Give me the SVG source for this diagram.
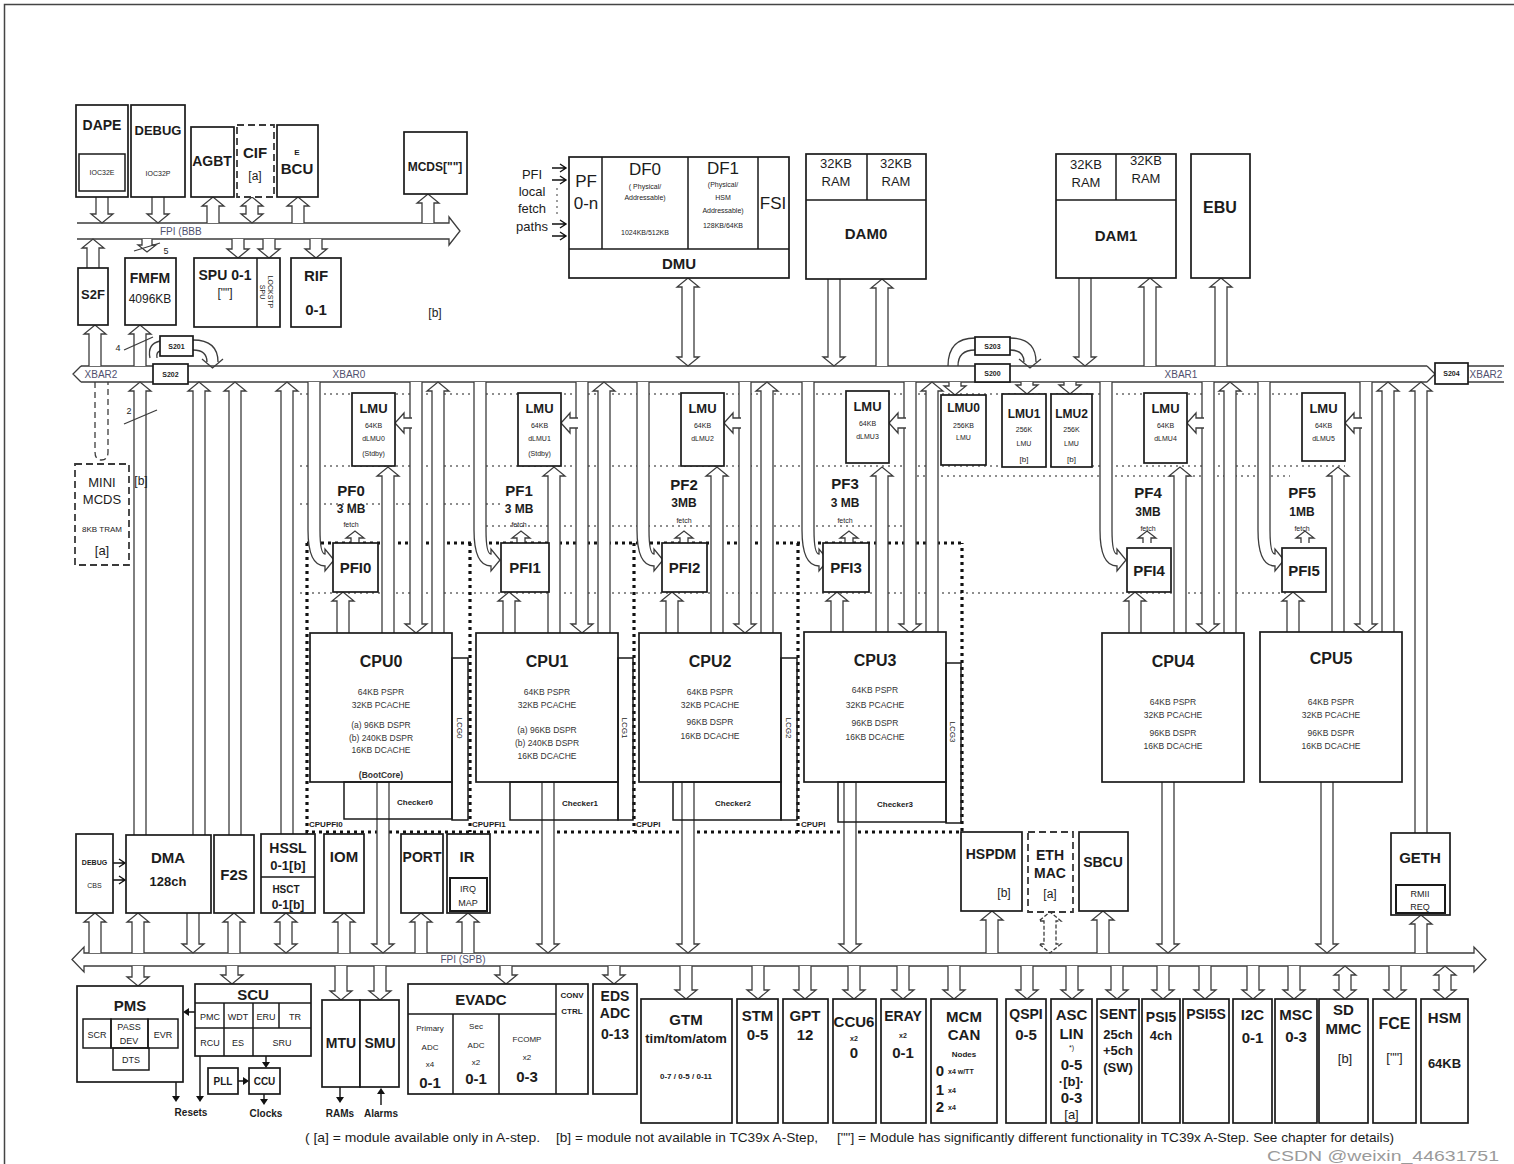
<svg xmlns="http://www.w3.org/2000/svg" width="1514" height="1164" viewBox="0 0 1514 1164">
<defs>
<style>
text{font-family:"Liberation Sans",Arial,Helvetica,sans-serif;fill:#1c1c1c;text-anchor:middle}
.bx{fill:#fff;stroke:#1a1a1a;stroke-width:1.7}
.bn{fill:none;stroke:#1a1a1a;stroke-width:1.5}
.ds{fill:#fff;stroke:#3a3a3a;stroke-width:1.8;stroke-dasharray:7 4}
.ar{fill:#fff;stroke:#3c3c3c;stroke-width:1.3}
.ln{fill:none;stroke:#3c3c3c;stroke-width:1.3}
.lk{fill:none;stroke:#111;stroke-width:1.4}
.hd{fill:#111;stroke:none}
.dot{fill:none;stroke:#6a6a6a;stroke-width:1.3;stroke-dasharray:2 4}
.dom{fill:none;stroke:#111;stroke-width:3.2;stroke-dasharray:3 4}
.h16{font-size:16px;font-weight:bold}
.h15{font-size:15px;font-weight:bold}
.h14{font-size:14px;font-weight:bold}
.h13{font-size:13px;font-weight:bold}
.h12{font-size:12px;font-weight:bold}
.h10{font-size:10px;font-weight:bold}
.r17{font-size:17px}
.r13{font-size:13px}
.r12{font-size:12px}
.s9{font-size:9px}
.s8{font-size:8px}
.s7{font-size:7px}
.sb{font-size:7px;font-weight:bold}
.cb{font-size:8px;font-weight:bold}
.bl{font-size:10px;fill:#50506e}
.cpu{font-size:8.5px;fill:#333}
.lt{text-anchor:start}
</style>
<g id="col">
<path class="ar" d="M308,382 V530 Q308,566 325,566 V571 L334,560 L325,549 V554 Q320,554 320,530 V382"/>
<path class="ar" d="M351,543 V538 h-5 l9,-7 l9,7 h-5 V543"/>
<path class="ar" d="M337,633 V601 h-5 l11,-9 l11,9 h-5 V633"/>
<path class="ar" d="M382,633 V476 h-5 l11,-9 l11,9 h-5 V633"/>
<path class="ar" d="M410,382 V624 h-5 l11,9 l11,-9 h-5 V382"/>
<path class="ar" d="M412,418 H404 v-5 l-9,10 l9,10 v-5 H412"/>
<path class="ar" d="M432,633 V391 h-5 l11,-9 l11,9 h-5 V633"/>
</g>
</defs>
<rect x="0" y="0" width="1514" height="1164" fill="#fff"/>
<path d="M4.5,1164 V4.5 H1514" fill="none" stroke="#444" stroke-width="1.5"/>

<g id="guides">
<path class="dot" d="M300,394 H1345 M300,466 H1345 M905,476 H1290 M300,504 H500 M480,526 H905 M300,593 H1290"/>
<path class="dom" d="M307,543 H962 M307,543 V832 H962 V543 M470,543 V832 M634,543 V832 M798,543 V832"/>
</g>

<g id="connectors">
<path class="ar" d="M77,223 H449 V217 L460,231 L449,245 V239 H77"/>
<path class="ln" d="M81,366 H1427 M81,382 H1427 M81,366 L73,374 L81,382 M1427,366 L1435,374 L1427,382 M1468,366 H1504 M1468,382 H1504"/>
<path class="ar" d="M84,953 H1474 V947 L1486,959.5 L1474,972 V966 H84 V972 L72,959.5 L84,947 Z"/>
<text class="bl lt" x="160" y="235">FPI (BBB</text>
<text class="bl" x="101" y="378">XBAR2</text>
<text class="bl" x="349" y="378">XBAR0</text>
<text class="bl" x="1181" y="378">XBAR1</text>
<text class="bl" x="1486" y="378">XBAR2</text>
<text class="bl" x="463" y="963">FPI  (SPB)</text>
<path class="ar" d="M96,197 V214 h-5 l11,9 l11,-9 h-5 V197"/>
<path class="ar" d="M152,197 V214 h-5 l11,9 l11,-9 h-5 V197"/>
<path class="ar" d="M207,223 V206 h-5 l11,-9 l11,9 h-5 V223"/>
<path class="ar" d="M246,206 h-5 l11,-9 l11,9 h-5 V214 h5 l-11,9 l-11,-9 h5 Z"/>
<path class="ar" d="M292,223 V206 h-5 l11,-9 l11,9 h-5 V223"/>
<path class="ar" d="M422,223 V203 h-5 l11,-9 l11,9 h-5 V223"/>
<path class="ar" d="M87,268 V248 h-5 l11,-9 l11,9 h-5 V268"/>
<path class="ar" d="M142,239 V245 h-4 l9,7 l9,-7 h-4 V239"/>
<path class="ln" d="M134,251 L160,243"/>
<text class="s9" x="166" y="254" fill="#50506e">5</text>
<path class="ar" d="M232,239 V249 h-5 l11,9 l11,-9 h-5 V239"/>
<path class="ar" d="M263,239 V249 h-5 l11,9 l11,-9 h-5 V239"/>
<path class="ar" d="M310,239 V249 h-5 l11,9 l11,-9 h-5 V239"/>
<path class="ar" d="M89,366 V334 h-5 l11,-9 l11,9 h-5 V366"/>
<path class="ar" d="M134,366 V334 h-5 l11,-9 l11,9 h-5 V366"/>
<path class="ln" d="M193,340 Q218,340 218,362 M193,350 Q207,350 207,362 M202,359 L212.5,368 L223,359"/>
<path class="ln" d="M160,341 Q147,344 150,358 M160,351 Q156,352 157,358"/>
<path class="ln" d="M124,350 L153,337"/>
<text class="s9" x="118" y="351" fill="#50506e">4</text>
<path class="ar" d="M682,287 h-5 l11,-9 l11,9 h-5 V357 h5 l-11,9 l-11,-9 h5 Z"/>
<path class="ar" d="M828,279 V357 h-5 l11,9 l11,-9 h-5 V279"/>
<path class="ar" d="M876,366 V288 h-5 l11,-9 l11,9 h-5 V366"/>
<path class="ar" d="M1079,278 V357 h-5 l11,9 l11,-9 h-5 V278"/>
<path class="ar" d="M1144,366 V287 h-5 l11,-9 l11,9 h-5 V366"/>
<path class="ar" d="M1215,366 V287 h-5 l11,-9 l11,9 h-5 V366"/>
<path class="ln" d="M948,366 Q948,338 975,338 M958,366 Q958,350 975,350"/>
<path class="ln" d="M1010,338 Q1036,338 1036,362 M1010,350 Q1024,350 1024,362 M1019,359 L1030,368 L1041,359"/>
<path class="lk" d="M552,168 H566 M560,164 L566,168 L560,172 M552,180 H566 M560,176 L566,180 L560,184 M552,224 H566 M560,220 L566,224 L560,228 M552,236 H566 M560,232 L566,236 L560,240"/>
<path class="dot" d="M557,188 V218"/>
<path class="ln" d="M95,382 V452 Q95,460 101.5,460 Q108,460 108,452 V382" style="stroke-dasharray:6 4"/>
<path class="ar" d="M134,835 V391 h-5 l11,-9 l11,9 h-5 V835"/>
<path class="ar" d="M193,835 V391 h-5 l11,-9 l11,9 h-5 V835"/>
<path class="ar" d="M229,835 V391 h-5 l11,-9 l11,9 h-5 V835"/>
<path class="ar" d="M281,834 V391 h-5 l11,-9 l11,9 h-5 V834"/>
<path class="ln" d="M124,424 L157,410"/>
<text class="s9" x="129" y="414" fill="#50506e">2</text>
<path class="ar" d="M949,382 V386 h-5 l11,9 l11,-9 h-5 V382"/>
<path class="ar" d="M1021,382 V385 h-5 l11,9 l11,-9 h-5 V382"/>
<path class="ar" d="M1064,382 V385 h-5 l11,9 l11,-9 h-5 V382"/>
<path class="ar" d="M1415,833 V391 h-5 l11,-9 l11,9 h-5 V833"/>
<use href="#col"/>
<use href="#col" x="166"/>
<use href="#col" x="329"/>
<use href="#col" x="494"/>
<use href="#col" x="792"/>
<use href="#col" x="950"/>
<path class="ar" d="M377,782 V944 h-5 l11,9 l11,-9 h-5 V782"/>
<path class="ar" d="M542,782 V944 h-5 l11,9 l11,-9 h-5 V782"/>
<path class="ar" d="M682,782 V944 h-5 l11,9 l11,-9 h-5 V782"/>
<path class="ar" d="M844,782 V944 h-5 l11,9 l11,-9 h-5 V782"/>
<path class="ar" d="M1162,782 V944 h-5 l11,9 l11,-9 h-5 V782"/>
<path class="ar" d="M1321,782 V944 h-5 l11,9 l11,-9 h-5 V782"/>
<path class="ar" d="M89,953 V922 h-5 l11,-9 l11,9 h-5 V953"/>
<path class="ar" d="M132,953 V922 h-5 l11,-9 l11,9 h-5 V953"/>
<path class="ar" d="M187,913 V944 h-5 l11,9 l11,-9 h-5 V913"/>
<path class="ar" d="M228,953 V922 h-5 l11,-9 l11,9 h-5 V953"/>
<path class="ar" d="M280,922 h-5 l11,-9 l11,9 h-5 V944 h5 l-11,9 l-11,-9 h5 Z"/>
<path class="ar" d="M338,953 V922 h-5 l11,-9 l11,9 h-5 V953"/>
<path class="ar" d="M415,953 V922 h-5 l11,-9 l11,9 h-5 V953"/>
<path class="ar" d="M462,953 V922 h-5 l11,-9 l11,9 h-5 V953"/>
<path class="ar" d="M986,953 V920 h-5 l11,-9 l11,9 h-5 V953"/>
<path class="ar" d="M1044,921 h-5 l11,-9 l11,9 h-5 V944 h5 l-11,9 l-11,-9 h5 Z" style="stroke-dasharray:4 2"/>
<path class="ar" d="M1097,953 V920 h-5 l11,-9 l11,9 h-5 V953"/>
<path class="ar" d="M1415,953 V924 h-5 l11,-9 l11,9 h-5 V953"/>
<path class="lk" d="M113,863 H124 M119,859 L125,863 L119,867 M113,880 H124 M119,876 L125,880 L119,884"/>
<path class="ar" d="M132,966 V977 h-5 l11,9 l11,-9 h-5 V966"/>
<path class="ar" d="M226,966 V975 h-5 l11,9 l11,-9 h-5 V966"/>
<path class="ar" d="M335,966 V991 h-5 l11,9 l11,-9 h-5 V966"/>
<path class="ar" d="M374,966 V991 h-5 l11,9 l11,-9 h-5 V966"/>
<path class="ar" d="M500,966 V975 h-5 l11,9 l11,-9 h-5 V966"/>
<path class="ar" d="M608,966 V975 h-5 l11,9 l11,-9 h-5 V966"/>
<path class="ar" d="M680,966 V990 h-5 l11,9 l11,-9 h-5 V966"/>
<path class="ar" d="M752,966 V990 h-5 l11,9 l11,-9 h-5 V966"/>
<path class="ar" d="M799,966 V990 h-5 l11,9 l11,-9 h-5 V966"/>
<path class="ar" d="M848,966 V990 h-5 l11,9 l11,-9 h-5 V966"/>
<path class="ar" d="M897,966 V990 h-5 l11,9 l11,-9 h-5 V966"/>
<path class="ar" d="M948,966 V990 h-5 l11,9 l11,-9 h-5 V966"/>
<path class="ar" d="M1021,966 V990 h-5 l11,9 l11,-9 h-5 V966"/>
<path class="ar" d="M1066,966 V990 h-5 l11,9 l11,-9 h-5 V966"/>
<path class="ar" d="M1111,966 V990 h-5 l11,9 l11,-9 h-5 V966"/>
<path class="ar" d="M1157,966 V990 h-5 l11,9 l11,-9 h-5 V966"/>
<path class="ar" d="M1199,966 V990 h-5 l11,9 l11,-9 h-5 V966"/>
<path class="ar" d="M1247,966 V990 h-5 l11,9 l11,-9 h-5 V966"/>
<path class="ar" d="M1288,966 V990 h-5 l11,9 l11,-9 h-5 V966"/>
<path class="ar" d="M1339,975 h-5 l11,-9 l11,9 h-5 V990 h5 l-11,9 l-11,-9 h5 Z"/>
<path class="ar" d="M1389,966 V990 h-5 l11,9 l11,-9 h-5 V966"/>
<path class="ar" d="M1439,975 h-5 l11,-9 l11,9 h-5 V990 h5 l-11,9 l-11,-9 h5 Z"/>
<path class="lk" d="M195,1012 H188 M266,1056 V1063 M238,1081 H244 M264,1094 V1100 M176,1082 V1097 M200,1056 V1097 M340,1087 V1098 M381,1105 V1093"/>
<polygon class="hd" points="183,1012 189,1008 189,1016"/>
<polygon class="hd" points="262,1062 270,1062 266,1068"/>
<polygon class="hd" points="243,1077 243,1085 249,1081"/>
<polygon class="hd" points="260,1099 268,1099 264,1105"/>
<polygon class="hd" points="172,1096 180,1096 176,1102"/>
<polygon class="hd" points="196,1096 204,1096 200,1102"/>
<polygon class="hd" points="336,1097 344,1097 340,1103"/>
<polygon class="hd" points="377,1094 385,1094 381,1088"/>
</g>

<g id="dape"><rect class="bx" x="76" y="105" width="52" height="92"/><rect class="bn" x="79" y="154" width="46" height="37"/><text class="h14" x="102" y="130">DAPE</text><text class="s7" x="102" y="175">IOC32E</text></g>
<g id="debug"><rect class="bx" x="131" y="105" width="54" height="92"/><text class="h13" x="158" y="135">DEBUG</text><text class="s7" x="158" y="176">IOC32P</text></g>
<g id="agbt"><rect class="bx" x="191" y="127" width="43" height="70"/><text class="h14" x="212" y="166">AGBT</text></g>
<g id="cif"><rect class="ds" x="237" y="125" width="37" height="72"/><text class="h15" x="255" y="158">CIF</text><text class="r12" x="255" y="180">[a]</text></g>
<g id="ebcu"><rect class="bx" x="277" y="125" width="41" height="72"/><text class="cb" x="297" y="155">E</text><text class="h15" x="297" y="174">BCU</text></g>
<g id="mcds"><rect class="bx" x="404" y="132" width="63" height="62"/><text class="h12" x="435" y="171">MCDS[""]</text></g>
<g id="s2f"><rect class="bx" x="78" y="268" width="30" height="57"/><text class="h13" x="93" y="299">S2F</text></g>
<g id="fmfm"><rect class="bx" x="125" y="258" width="51" height="67"/><text class="h14" x="150" y="283">FMFM</text><text class="r12" x="150" y="303">4096KB</text></g>
<g id="spu"><rect class="bx" x="194" y="258" width="86" height="69"/><line class="bn" x1="257" y1="258" x2="257" y2="327"/><text class="h14" x="225" y="280">SPU 0-1</text><text class="r12" x="225" y="297">[""]</text><text class="s7" transform="translate(260,292) rotate(90)">SPU</text><text class="s7" transform="translate(268,292) rotate(90)">LOCKSTP</text></g>
<g id="rif"><rect class="bx" x="291" y="258" width="50" height="69"/><text class="h15" x="316" y="281">RIF</text><text class="h15" x="316" y="315">0-1</text></g>
<text class="r12" x="435" y="317">[b]</text>

<g id="dmu"><rect class="bx" x="569" y="157" width="220" height="121"/><path class="bn" d="M569,249 H789 M602,157 V249 M688,157 V249 M758,157 V249"/>
<text class="r17" x="586" y="187">PF</text><text class="r17" x="586" y="209">0-n</text>
<text class="r17" x="645" y="175">DF0</text><text class="s7" x="645" y="189">( Physical/</text><text class="s7" x="645" y="200">Addressable)</text><text class="s7" x="645" y="235">1024KB/512KB</text>
<text class="r17" x="723" y="174">DF1</text><text class="s7" x="723" y="187">(Physical/</text><text class="s7" x="723" y="200">HSM</text><text class="s7" x="723" y="213">Addressable)</text><text class="s7" x="723" y="228">128KB/64KB</text>
<text class="r17" x="773" y="209">FSI</text><text class="h15" x="679" y="269">DMU</text></g>
<g id="pfi-label"><text class="r13" x="532" y="179">PFI</text><text class="r13" x="532" y="196">local</text><text class="r13" x="532" y="213">fetch</text><text class="r13" x="532" y="231">paths</text></g>

<g id="dam0"><rect class="bx" x="806" y="154" width="120" height="125"/><path class="bn" d="M806,200 H926 M867,154 V200"/><text class="r13" x="836" y="168">32KB</text><text class="r13" x="836" y="186">RAM</text><text class="r13" x="896" y="168">32KB</text><text class="r13" x="896" y="186">RAM</text><text class="h15" x="866" y="239">DAM0</text></g>
<g id="dam1"><rect class="bx" x="1056" y="154" width="120" height="124"/><path class="bn" d="M1056,200 H1176 M1116,154 V200"/><text class="r13" x="1086" y="169">32KB</text><text class="r13" x="1086" y="187">RAM</text><text class="r13" x="1146" y="165">32KB</text><text class="r13" x="1146" y="183">RAM</text><text class="h15" x="1116" y="241">DAM1</text></g>
<g id="ebu"><rect class="bx" x="1191" y="154" width="59" height="124"/><text class="h16" x="1220" y="213">EBU</text></g>

<g id="s201"><rect class="bx" x="160" y="336" width="33" height="20"/><text class="sb" x="176.5" y="349">S201</text></g>
<g id="s202"><rect class="bx" x="153" y="364" width="35" height="20"/><text class="sb" x="170.5" y="377">S202</text></g>
<g id="s203"><rect class="bx" x="975" y="337" width="35" height="18"/><text class="sb" x="992.5" y="349">S203</text></g>
<g id="s200"><rect class="bx" x="975" y="364" width="35" height="18"/><text class="sb" x="992.5" y="376">S200</text></g>
<g id="s204"><rect class="bx" x="1435" y="363" width="33" height="21"/><text class="sb" x="1451.5" y="376">S204</text></g>

<g id="minimcds"><rect class="ds" x="75" y="464" width="54" height="101"/><text class="r13" x="102" y="487">MINI</text><text class="r13" x="102" y="504">MCDS</text><text class="s8" x="102" y="532">8KB TRAM</text><text class="r13" x="102" y="555">[a]</text></g>
<text class="r12" x="141" y="485">[b]</text>

<g id="dlmu0"><rect class="bx" x="352" y="393" width="43" height="73"/><text class="h13" x="373.5" y="413">LMU</text><text class="s7" x="373.5" y="428">64KB</text><text class="s7" x="373.5" y="441">dLMU0</text><text class="s7" x="373.5" y="456">(Stdby)</text></g>
<g id="dlmu1"><rect class="bx" x="518" y="393" width="43" height="73"/><text class="h13" x="539.5" y="413">LMU</text><text class="s7" x="539.5" y="428">64KB</text><text class="s7" x="539.5" y="441">dLMU1</text><text class="s7" x="539.5" y="456">(Stdby)</text></g>
<g id="dlmu2"><rect class="bx" x="681" y="393" width="43" height="73"/><text class="h13" x="702.5" y="413">LMU</text><text class="s7" x="702.5" y="428">64KB</text><text class="s7" x="702.5" y="441">dLMU2</text></g>
<g id="dlmu3"><rect class="bx" x="846" y="391" width="43" height="72"/><text class="h13" x="867.5" y="411">LMU</text><text class="s7" x="867.5" y="426">64KB</text><text class="s7" x="867.5" y="439">dLMU3</text></g>
<g id="lmu0"><rect class="bx" x="941" y="395" width="45" height="70"/><text class="h12" x="963.5" y="412">LMU0</text><text class="s7" x="963.5" y="428">256KB</text><text class="s7" x="963.5" y="440">LMU</text></g>
<g id="lmu1"><rect class="bx" x="1002" y="394" width="44" height="73"/><text class="h12" x="1024" y="418">LMU1</text><text class="s7" x="1024" y="432">256K</text><text class="s7" x="1024" y="446">LMU</text><text class="s8" x="1024" y="462">[b]</text></g>
<g id="lmu2"><rect class="bx" x="1051" y="394" width="41" height="73"/><text class="h12" x="1071.5" y="418">LMU2</text><text class="s7" x="1071.5" y="432">256K</text><text class="s7" x="1071.5" y="446">LMU</text><text class="s8" x="1071.5" y="462">[b]</text></g>
<g id="dlmu4"><rect class="bx" x="1144" y="393" width="43" height="70"/><text class="h13" x="1165.5" y="413">LMU</text><text class="s7" x="1165.5" y="428">64KB</text><text class="s7" x="1165.5" y="441">dLMU4</text></g>
<g id="dlmu5"><rect class="bx" x="1302" y="393" width="43" height="68"/><text class="h13" x="1323.5" y="413">LMU</text><text class="s7" x="1323.5" y="428">64KB</text><text class="s7" x="1323.5" y="441">dLMU5</text></g>

<g id="pfi0"><rect class="bx" x="333" y="543" width="45" height="49"/><text class="h15" x="355.5" y="573">PFI0</text><text class="h15" x="351" y="496">PF0</text><text class="h12" x="351" y="513">3 MB</text><text class="s7" x="351" y="527">fetch</text></g>
<g id="pfi1"><rect class="bx" x="501" y="543" width="48" height="49"/><text class="h15" x="525" y="573">PFI1</text><text class="h15" x="519" y="496">PF1</text><text class="h12" x="519" y="513">3 MB</text><text class="s7" x="519" y="527">fetch</text></g>
<g id="pfi2"><rect class="bx" x="662" y="543" width="45" height="49"/><text class="h15" x="684.5" y="573">PFI2</text><text class="h15" x="684" y="490">PF2</text><text class="h12" x="684" y="507">3MB</text><text class="s7" x="684" y="523">fetch</text></g>
<g id="pfi3"><rect class="bx" x="823" y="543" width="46" height="49"/><text class="h15" x="846" y="573">PFI3</text><text class="h15" x="845" y="489">PF3</text><text class="h12" x="845" y="507">3 MB</text><text class="s7" x="845" y="523">fetch</text></g>
<g id="pfi4"><rect class="bx" x="1127" y="548" width="44" height="44"/><text class="h15" x="1149" y="576">PFI4</text><text class="h15" x="1148" y="498">PF4</text><text class="h12" x="1148" y="516">3MB</text><text class="s7" x="1148" y="531">fetch</text></g>
<g id="pfi5"><rect class="bx" x="1282" y="548" width="44" height="44"/><text class="h15" x="1304" y="576">PFI5</text><text class="h15" x="1302" y="498">PF5</text><text class="h12" x="1302" y="516">1MB</text><text class="s7" x="1302" y="531">fetch</text></g>

<g id="cpu0"><rect class="bx" x="310" y="633" width="142" height="149"/><text class="h16" x="381" y="667">CPU0</text>
<text class="cpu" x="381" y="695">64KB PSPR</text><text class="cpu" x="381" y="708">32KB PCACHE</text><text class="cpu" x="381" y="728">(a) 96KB DSPR</text><text class="cpu" x="381" y="741">(b) 240KB DSPR</text><text class="cpu" x="381" y="753">16KB DCACHE</text><text class="cpu" x="381" y="778" font-weight="bold">(BootCore)</text>
<rect class="bn" x="452" y="658" width="16" height="162"/><text class="s8" transform="translate(457,728) rotate(90)">LCG0</text>
<rect class="bn" x="344" y="782" width="108" height="37"/><text class="cb" x="415" y="805">Checker0</text></g>
<g id="cpu1"><rect class="bx" x="476" y="633" width="142" height="149"/><text class="h16" x="547" y="667">CPU1</text>
<text class="cpu" x="547" y="695">64KB  PSPR</text><text class="cpu" x="547" y="708">32KB PCACHE</text><text class="cpu" x="547" y="733">(a) 96KB  DSPR</text><text class="cpu" x="547" y="746">(b) 240KB DSPR</text><text class="cpu" x="547" y="759">16KB DCACHE</text>
<rect class="bn" x="618" y="658" width="15" height="162"/><text class="s8" transform="translate(622,728) rotate(90)">LCG1</text>
<rect class="bn" x="510" y="782" width="108" height="38"/><text class="cb" x="580" y="806">Checker1</text></g>
<g id="cpu2"><rect class="bx" x="639" y="633" width="142" height="149"/><text class="h16" x="710" y="667">CPU2</text>
<text class="cpu" x="710" y="695">64KB PSPR</text><text class="cpu" x="710" y="708">32KB  PCACHE</text><text class="cpu" x="710" y="725">96KB  DSPR</text><text class="cpu" x="710" y="739">16KB DCACHE</text>
<rect class="bn" x="781" y="658" width="16" height="162"/><text class="s8" transform="translate(786,728) rotate(90)">LCG2</text>
<rect class="bn" x="673" y="782" width="108" height="38"/><text class="cb" x="733" y="806">Checker2</text></g>
<g id="cpu3"><rect class="bx" x="804" y="632" width="142" height="150"/><text class="h16" x="875" y="666">CPU3</text>
<text class="cpu" x="875" y="693">64KB PSPR</text><text class="cpu" x="875" y="708">32KB  PCACHE</text><text class="cpu" x="875" y="726">96KB  DSPR</text><text class="cpu" x="875" y="740">16KB DCACHE</text>
<rect class="bn" x="946" y="663" width="15" height="160"/><text class="s8" transform="translate(950,732) rotate(90)">LCG3</text>
<rect class="bn" x="838" y="782" width="108" height="40"/><text class="cb" x="895" y="807">Checker3</text></g>
<g id="cpu4"><rect class="bx" x="1102" y="633" width="142" height="149"/><text class="h16" x="1173" y="667">CPU4</text>
<text class="cpu" x="1173" y="705">64KB PSPR</text><text class="cpu" x="1173" y="718">32KB  PCACHE</text><text class="cpu" x="1173" y="736">96KB  DSPR</text><text class="cpu" x="1173" y="749">16KB DCACHE</text></g>
<g id="cpu5"><rect class="bx" x="1260" y="632" width="142" height="150"/><text class="h16" x="1331" y="664">CPU5</text>
<text class="cpu" x="1331" y="705">64KB PSPR</text><text class="cpu" x="1331" y="718">32KB  PCACHE</text><text class="cpu" x="1331" y="736">96KB  DSPR</text><text class="cpu" x="1331" y="749">16KB DCACHE</text></g>
<g id="cpupfi-labels"><text class="cb lt" x="309" y="827">CPUPFI0</text><text class="cb lt" x="472" y="827">CPUPFI1</text><text class="cb lt" x="636" y="827">CPUPI</text><text class="cb lt" x="801" y="827">CPUPI</text></g>

<g id="debugcbs"><rect class="bx" x="76" y="834" width="37" height="79"/><text class="sb" x="94.5" y="865">DEBUG</text><text class="s7" x="94.5" y="888">CBS</text></g>
<g id="dma"><rect class="bx" x="126" y="835" width="85" height="78"/><text class="h15" x="168" y="863">DMA</text><text class="h13" x="168" y="886">128ch</text></g>
<g id="f2s"><rect class="bx" x="214" y="835" width="40" height="78"/><text class="h15" x="234" y="880">F2S</text></g>
<g id="hssl"><rect class="bx" x="261" y="834" width="54" height="79"/><line class="bn" x1="261" y1="877" x2="315" y2="877"/><text class="h14" x="288" y="853">HSSL</text><text class="h13" x="288" y="870">0-1[b]</text><text class="h10" x="286" y="893">HSCT</text><text class="h12" x="288" y="909">0-1[b]</text></g>
<g id="iom"><rect class="bx" x="324" y="834" width="40" height="79"/><text class="h15" x="344" y="862">IOM</text></g>
<g id="port"><rect class="bx" x="401" y="834" width="42" height="79"/><text class="h14" x="422" y="862">PORT</text></g>
<g id="ir"><rect class="bx" x="447" y="834" width="43" height="79"/><rect class="bn" x="450" y="878" width="37" height="33" style="stroke-width:2"/><text class="h15" x="467" y="862">IR</text><text class="s9" x="468" y="892">IRQ</text><text class="s9" x="468" y="906">MAP</text></g>
<g id="hspdm"><rect class="bx" x="961" y="832" width="61" height="79"/><text class="h14" x="991" y="859">HSPDM</text><text class="r12" x="1004" y="897">[b]</text></g>
<g id="ethmac"><rect class="ds" x="1028" y="832" width="45" height="80"/><text class="h14" x="1050" y="860">ETH</text><text class="h14" x="1050" y="878">MAC</text><text class="r12" x="1050" y="898">[a]</text></g>
<g id="sbcu"><rect class="bx" x="1079" y="832" width="49" height="79"/><text class="h14" x="1103" y="867">SBCU</text></g>
<g id="geth"><rect class="bx" x="1391" y="833" width="59" height="82"/><rect class="bn" x="1396" y="885" width="49" height="28" style="stroke-width:2"/><text class="h15" x="1420" y="863">GETH</text><text class="s9" x="1420" y="897">RMII</text><text class="s9" x="1420" y="910">REQ</text></g>

<g id="pms"><rect class="bx" x="77" y="986" width="106" height="96"/><text class="h15" x="130" y="1011">PMS</text>
<rect class="bn" x="83" y="1019" width="28" height="29"/><text class="s9" x="97" y="1038">SCR</text>
<rect class="bn" x="111" y="1019" width="37" height="29"/><text class="s9" x="129" y="1030">PASS</text><text class="s9" x="129" y="1044">DEV</text>
<rect class="bn" x="148" y="1019" width="30" height="29"/><text class="s9" x="163" y="1038">EVR</text>
<rect class="bn" x="113" y="1048" width="36" height="22"/><text class="s9" x="131" y="1063">DTS</text></g>
<g id="scu"><rect class="bx" x="195" y="984" width="116" height="72"/><path class="bn" d="M195,1003 H311 M195,1028 H311 M224,1003 V1056 M253,1003 V1056 M279,1003 V1028"/><text class="h15" x="253" y="1000">SCU</text>
<text class="s9" x="210" y="1020">PMC</text><text class="s9" x="238" y="1020">WDT</text><text class="s9" x="266" y="1020">ERU</text><text class="s9" x="295" y="1020">TR</text>
<text class="s9" x="210" y="1046">RCU</text><text class="s9" x="238" y="1046">ES</text><text class="s9" x="282" y="1046">SRU</text></g>
<g id="pll"><rect class="bx" x="208" y="1068" width="30" height="26"/><text class="h10" x="223" y="1085">PLL</text></g>
<g id="ccu"><rect class="bx" x="249" y="1068" width="31" height="26"/><text class="h10" x="264.5" y="1085">CCU</text></g>
<text class="h10" x="191" y="1116">Resets</text><text class="h10" x="266" y="1117">Clocks</text>
<g id="mtu"><rect class="bx" x="322" y="1000" width="38" height="87"/><text class="h14" x="341" y="1048">MTU</text></g>
<g id="smu"><rect class="bx" x="360" y="1000" width="39" height="87"/><text class="h14" x="380" y="1048">SMU</text></g>
<text class="h10" x="340" y="1117">RAMs</text><text class="h10" x="381" y="1117">Alarms</text>
<g id="evadc"><rect class="bx" x="408" y="984" width="180" height="110"/><path class="bn" d="M408,1014 H556 M556,984 V1094 M453,1014 V1094 M499,1014 V1094"/>
<text class="h15" x="481" y="1005">EVADC</text><text class="cb" x="572" y="998">CONV</text><text class="cb" x="572" y="1014">CTRL</text>
<text class="s8" x="430" y="1031">Primary</text><text class="s8" x="430" y="1050">ADC</text><text class="s8" x="430" y="1067">x4</text><text class="h15" x="430" y="1088">0-1</text>
<text class="s8" x="476" y="1029">Sec</text><text class="s8" x="476" y="1048">ADC</text><text class="s8" x="476" y="1065">x2</text><text class="h15" x="476" y="1084">0-1</text>
<text class="s8" x="527" y="1042">FCOMP</text><text class="s8" x="527" y="1060">x2</text><text class="h15" x="527" y="1082">0-3</text></g>
<g id="edsadc"><rect class="bx" x="593" y="984" width="44" height="110"/><text class="h14" x="615" y="1001">EDS</text><text class="h14" x="615" y="1018">ADC</text><text class="h14" x="615" y="1039">0-13</text></g>
<g id="gtm"><rect class="bx" x="641" y="999" width="91" height="124"/><text class="h15" x="686" y="1025">GTM</text><text class="h13" x="686" y="1043">tim/tom/atom</text><text class="cb" x="686" y="1079">0-7 / 0-5 / 0-11</text></g>
<g id="stm"><rect class="bx" x="737" y="999" width="41" height="124"/><text class="h15" x="757.5" y="1021">STM</text><text class="h15" x="757.5" y="1040">0-5</text></g>
<g id="gpt"><rect class="bx" x="783" y="999" width="45" height="124"/><text class="h15" x="805" y="1021">GPT</text><text class="h15" x="805" y="1040">12</text></g>
<g id="ccu6"><rect class="bx" x="833" y="999" width="43" height="124"/><text class="h15" x="854" y="1027">CCU6</text><text class="sb" x="854" y="1041">x2</text><text class="h15" x="854" y="1058">0</text></g>
<g id="eray"><rect class="bx" x="881" y="999" width="45" height="124"/><text class="h14" x="903" y="1021">ERAY</text><text class="sb" x="903" y="1038">x2</text><text class="h15" x="903" y="1058">0-1</text></g>
<g id="mcmcan"><rect class="bx" x="931" y="999" width="66" height="124"/><text class="h15" x="964" y="1022">MCM</text><text class="h15" x="964" y="1040">CAN</text><text class="cb" x="964" y="1057">Nodes</text>
<text class="h15" x="940" y="1076">0</text><text class="sb lt" x="948" y="1074">x4 w/TT</text><text class="h15" x="940" y="1095">1</text><text class="sb lt" x="948" y="1093">x4</text><text class="h15" x="940" y="1112">2</text><text class="sb lt" x="948" y="1110">x4</text></g>
<g id="qspi"><rect class="bx" x="1006" y="999" width="40" height="124"/><text class="h14" x="1026" y="1019">QSPI</text><text class="h15" x="1026" y="1040">0-5</text></g>
<g id="asclin"><rect class="bx" x="1051" y="999" width="41" height="124"/><text class="h15" x="1071.5" y="1020">ASC</text><text class="h15" x="1071.5" y="1039">LIN</text><text class="s7" x="1071.5" y="1050">*)</text><text class="h15" x="1071.5" y="1070">0-5</text><text class="h13" x="1071.5" y="1086">·[b]·</text><text class="h15" x="1071.5" y="1103">0-3</text><text class="r13" x="1071.5" y="1119">[a]</text></g>
<g id="sent"><rect class="bx" x="1097" y="999" width="42" height="124"/><text class="h14" x="1118" y="1019">SENT</text><text class="h13" x="1118" y="1039">25ch</text><text class="h13" x="1118" y="1055">+5ch</text><text class="h13" x="1118" y="1072">(SW)</text></g>
<g id="psi5"><rect class="bx" x="1142" y="999" width="38" height="124"/><text class="h14" x="1161" y="1022">PSI5</text><text class="h13" x="1161" y="1040">4ch</text></g>
<g id="psi5s"><rect class="bx" x="1183" y="999" width="46" height="124"/><text class="h14" x="1206" y="1019">PSI5S</text></g>
<g id="i2c"><rect class="bx" x="1233" y="999" width="39" height="124"/><text class="h15" x="1252.5" y="1020">I2C</text><text class="h15" x="1252.5" y="1043">0-1</text></g>
<g id="msc"><rect class="bx" x="1275" y="999" width="42" height="124"/><text class="h15" x="1296" y="1020">MSC</text><text class="h15" x="1296" y="1042">0-3</text></g>
<g id="sdmmc"><rect class="bx" x="1319" y="999" width="49" height="124"/><text class="h15" x="1343.5" y="1015">SD</text><text class="h15" x="1343.5" y="1034">MMC</text><text class="r13" x="1345" y="1063">[b]</text></g>
<g id="fce"><rect class="bx" x="1373" y="999" width="43" height="124"/><text class="h16" x="1394.5" y="1029">FCE</text><text class="r13" x="1394.5" y="1062">[""]</text></g>
<g id="hsm"><rect class="bx" x="1421" y="999" width="47" height="124"/><text class="h15" x="1444.5" y="1023">HSM</text><text class="h13" x="1444.5" y="1068">64KB</text></g>

<g id="footnote">
<text class="lt" x="305" y="1142" font-size="13" textLength="235" lengthAdjust="spacingAndGlyphs">( [a] = module  available only in A-step.</text>
<text class="lt" x="556" y="1142" font-size="13" textLength="262" lengthAdjust="spacingAndGlyphs">[b] = module not available in TC39x A-Step,</text>
<text class="lt" x="837" y="1142" font-size="13" textLength="557" lengthAdjust="spacingAndGlyphs">[""] = Module has significantly different functionality in TC39x A-Step. See chapter for details)</text>
<text class="lt" x="1267" y="1161" font-size="15" style="fill:#9a9a9a" textLength="232" lengthAdjust="spacingAndGlyphs">CSDN @weixin_44631751</text>
</g>
</svg>
